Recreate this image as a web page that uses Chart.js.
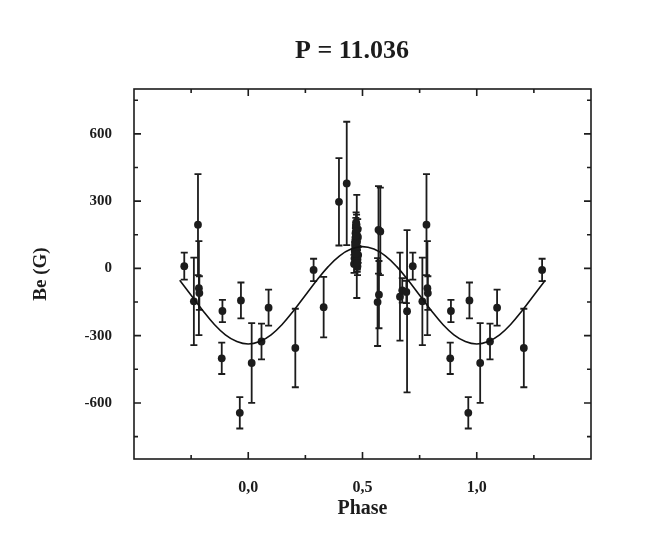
<!DOCTYPE html>
<html>
<head>
<meta charset="utf-8">
<title>P = 11.036</title>
<script src="https://cdn.jsdelivr.net/npm/chart.js@4.4.0/dist/chart.umd.min.js"></script>
<style>
    html, body { margin: 0; padding: 0; background: #fff; }
    canvas { display: block; }
</style>
</head>
<body>
<canvas id="phaseChart" width="664" height="559"></canvas>
<script>
// Measurements, folded on P = 11.036 d (phase, Be in G, 1-sigma error)
const phase = [
    -0.280, -0.238, -0.220, -0.216, -0.214, -0.113, -0.116, -0.032, -0.037,
    0.015, 0.058, 0.089, 0.206, 0.286, 0.330, 0.397, 0.431,
    0.463, 0.465, 0.467, 0.468, 0.469, 0.470, 0.471, 0.472, 0.473, 0.474,
    0.475, 0.476, 0.477, 0.478, 0.479, 0.480, 0.481, 0.470, 0.474, 0.476,
    0.478, 0.466, 0.472, 0.475, 0.468, 0.473, 0.477, 0.471,
    0.570, 0.578, 0.572, 0.566, 0.664, 0.674, 0.692, 0.695,
    0.720, 0.762, 0.780, 0.784, 0.786, 0.887, 0.884, 0.968, 0.963,
    1.015, 1.058, 1.089, 1.206, 1.286
];
const field = [
    10, -147, 195, -88, -110, -190, -401, -143, -644,
    -422, -326, -175, -355, -7, -173, 297, 379,
    20, 45, 70, 100, 130, 160, 185, 205, 150, 115,
    85, 55, 30, 10, 175, 140, 60, 95, 195, 120,
    40, 80, 165, 98, 110, 65, 25, 145,
    172, 165, -117, -150, -126, -98, -105, -191,
    10, -147, 195, -88, -110, -190, -401, -143, -644,
    -422, -326, -175, -355, -7
];
const fieldErr = [
    60, 195, 225, 210, 75, 50, 70, 80, 70,
    178, 80, 80, 175, 50, 135, 195, 275,
    40, 35, 45, 40, 50, 35, 40, 45, 40, 35,
    45, 40, 35, 40, 45, 40, 35, 40, 45, 35,
    40, 40, 40, 230, 45, 40, 40, 45,
    195, 195, 150, 196, 196, 55, 50, 362,
    60, 195, 225, 210, 75, 50, 70, 80, 70,
    178, 80, 80, 175, 50
];

// sinusoidal fit
const curvePhase = [
    -0.30, -0.25, -0.20, -0.15, -0.10, -0.05, 0.00, 0.05, 0.10, 0.15, 0.20,
    0.25, 0.30, 0.35, 0.40, 0.45, 0.50, 0.55, 0.60, 0.65, 0.70, 0.75,
    0.80, 0.85, 0.90, 0.95, 1.00, 1.05, 1.10, 1.15, 1.20, 1.25, 1.30
];
const curveField = [
    -53, -120, -187, -248, -296, -326, -337, -326, -296, -248, -187,
    -120, -53, 8, 56, 86, 97, 86, 56, 8, -53, -120,
    -187, -248, -296, -326, -337, -326, -296, -248, -187, -120, -53
];

const xTicks = [0, 0.5, 1.0];
const xMinorTicks = [-0.25, 0.25, 0.75, 1.25];
const yTicks = [-600, -300, 0, 300, 600];
const yMinorTicks = [-750, -450, -150, 150, 450, 750];

const serif = "'Liberation Serif', 'DejaVu Serif', serif";
const ink = '#1c1c1c';

// error bars with caps, drawn under the dots
const errorBars = {
    id: 'errorBars',
    beforeDatasetsDraw(chart) {
        const { ctx, scales: { x, y } } = chart;
        ctx.save();
        ctx.strokeStyle = ink;
        ctx.lineWidth = 1.8;
        phase.forEach((p, i) => {
            const px = x.getPixelForValue(p);
            const top = y.getPixelForValue(field[i] + fieldErr[i]);
            const bot = y.getPixelForValue(field[i] - fieldErr[i]);
            ctx.beginPath();
            ctx.moveTo(px, top); ctx.lineTo(px, bot);
            ctx.moveTo(px - 3.5, top); ctx.lineTo(px + 3.5, top);
            ctx.moveTo(px - 3.5, bot); ctx.lineTo(px + 3.5, bot);
            ctx.stroke();
        });
        ctx.restore();
    }
};

// closed frame with inward ticks on all four sides, plus the title
const frame = {
    id: 'frame',
    afterDraw(chart) {
        const { ctx, chartArea: a, scales: { x, y } } = chart;
        ctx.save();
        ctx.strokeStyle = ink;
        ctx.lineWidth = 1.6;
        ctx.strokeRect(a.left, a.top, a.right - a.left, a.bottom - a.top);

        ctx.beginPath();
        const xt = (v, len) => {
            const px = x.getPixelForValue(v);
            ctx.moveTo(px, a.bottom); ctx.lineTo(px, a.bottom - len);
            ctx.moveTo(px, a.top); ctx.lineTo(px, a.top + len);
        };
        const yt = (v, len) => {
            const py = y.getPixelForValue(v);
            ctx.moveTo(a.left, py); ctx.lineTo(a.left + len, py);
            ctx.moveTo(a.right, py); ctx.lineTo(a.right - len, py);
        };
        xTicks.forEach(v => xt(v, 7));
        xMinorTicks.forEach(v => xt(v, 4));
        yTicks.forEach(v => yt(v, 7));
        yMinorTicks.forEach(v => yt(v, 4));
        ctx.stroke();

        ctx.fillStyle = ink;
        ctx.font = 'bold 26px ' + serif;
        ctx.textAlign = 'center';
        ctx.textBaseline = 'middle';
        ctx.fillText('P = 11.036', 352, 51);
        ctx.restore();
    }
};

new Chart(document.getElementById('phaseChart'), {
    data: {
        datasets: [
            {
                type: 'scatter',
                label: 'Be',
                data: phase.map((p, i) => ({ x: p, y: field[i] })),
                pointRadius: 3.9,
                pointBackgroundColor: ink,
                pointBorderWidth: 0,
                order: 1
            },
            {
                type: 'line',
                label: 'fit',
                data: curvePhase.map((p, i) => ({ x: p, y: curveField[i] })),
                borderColor: '#111',
                borderWidth: 1.6,
                pointRadius: 0,
                tension: 0.4,
                fill: false,
                order: 0
            }
        ]
    },
    options: {
        responsive: false,
        animation: false,
        devicePixelRatio: 1,
        layout: { padding: { top: 89, right: 73, left: 0, bottom: 0 } },
        plugins: {
            legend: { display: false },
            tooltip: { enabled: false },
            title: { display: false }
        },
        scales: {
            x: {
                type: 'linear',
                min: -0.5,
                max: 1.5,
                grid: { display: false, drawTicks: false },
                border: { display: false },
                afterBuildTicks: s => { s.ticks = xTicks.map(v => ({ value: v })); },
                afterFit: s => { s.height = 100; },
                ticks: {
                    padding: 19,
                    color: ink,
                    font: { family: serif, weight: 'bold', size: 16 },
                    callback: v => v.toFixed(1).replace('.', ',')
                },
                title: {
                    display: true,
                    text: 'Phase',
                    color: ink,
                    font: { family: serif, weight: 'bold', size: 20 },
                    padding: { top: 0, bottom: 38 }
                }
            },
            y: {
                type: 'linear',
                min: -850,
                max: 800,
                grid: { display: false, drawTicks: false },
                border: { display: false },
                afterBuildTicks: s => { s.ticks = yTicks.map(v => ({ value: v })); },
                afterFit: s => { s.width = 134; },
                ticks: {
                    padding: 22,
                    color: ink,
                    font: { family: serif, weight: 'bold', size: 15 },
                    callback: v => String(v)
                },
                title: {
                    display: true,
                    text: 'Be (G)',
                    color: ink,
                    font: { family: serif, weight: 'bold', size: 19 },
                    padding: { top: 30, bottom: 0 }
                }
            }
        }
    },
    plugins: [errorBars, frame]
});
</script>
</body>
</html>
